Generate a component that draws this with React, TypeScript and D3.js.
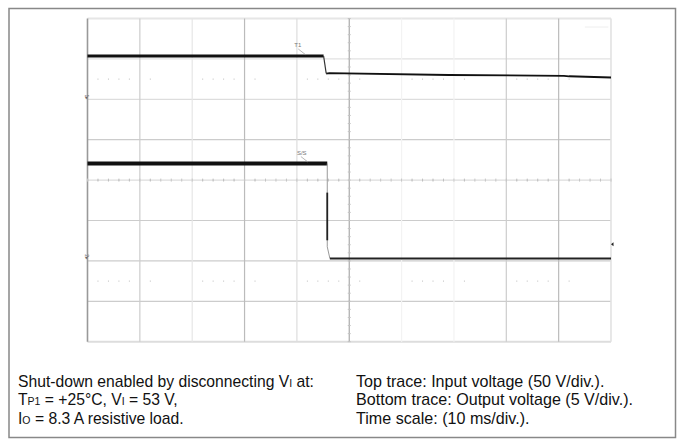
import * as React from "react";
import * as d3 from "d3";

// time axis: 10 ms/div, 10 divisions, trigger in the middle
const timeTicks = [-50, -40, -30, -20, -10, 0, 10, 20, 30, 40, 50];
const divTicks = [-4, -3, -2, -1, 0, 1, 2, 3, 4];

// channel reference markers (in divisions from centre)
const CH1_OFFSET = 2.05;
const CH2_OFFSET = -1.91;
const CH1_SCALE = 50; // V/div
const CH2_SCALE = 5; // V/div

// top trace: input voltage [ms, V]
const inputHigh: [number, number][] = [[-50, 51.1], [-4.9, 51.1]];
const inputFall: [number, number][] = [[-4.9, 51.1], [-4.4, 29.4]];
const inputLow: [number, number][] = [[-4.4, 29.4], [-3.8, 29.9], [19, 27.6], [41, 26.6], [42, 26.0], [50, 24.5]];

// bottom trace: output voltage [ms, V]
const outputHigh: [number, number][] = [[-50, 11.6], [-4.2, 11.6]];
const outputFall: [number, number][] = [[-4.2, 11.6], [-4.2, 1.3], [-3.7, -0.15]];
const outputFallStrong: [number, number][] = [[-4.2, 8.0], [-4.2, 2.1]];
const outputLow: [number, number][] = [[-3.7, -0.15], [50, -0.15]];

// rows of faint minor-tick dots (divisions)
const dotRows = [2.5, 0, -2.5];

const leftNotes = [
  [["Shut-down enabled by disconnecting V", ""], ["I", "sub"], [" at:", ""]],
  [["T", ""], ["P1", "sub"], [" = +25°C, V", ""], ["I", "sub"], [" = 53 V,", ""]],
  [["I", ""], ["O", "sub"], [" = 8.3 A resistive load.", ""]],
];
const rightNotes = [
  "Top trace: Input voltage (50 V/div.).",
  "Bottom trace: Output voltage (5 V/div.).",
  "Time scale: (10 ms/div.).",
];

const vColors = ["#999", "#ccc", "#e6e6e6", "#bbb", "#ddd", "#aaa", "#f3f3f3", "#f3f3f3", "#ccc", "#bbb", "#e2e2e2"];
const hColors = ["#ddd", "#ccc", "#ccc", "#ccc", "#ddd", "#ccc", "#ddd", "#e2e2e2", "#e6e6e6"];

export default function App() {
  const svgRef = React.useRef<SVGSVGElement>(null);

  React.useEffect(() => {
    if (!svgRef.current) return;
    const svg = d3.select(svgRef.current);
    svg.selectAll("*").remove();

    const x = d3.scaleLinear().domain([-50, 50]).range([87.5, 611]);
    const y = d3.scaleLinear().domain([-4, 4]).range([341.7, 18.5]);
    const y1 = (v: number) => y(CH1_OFFSET + v / CH1_SCALE);
    const y2 = (v: number) => y(CH2_OFFSET + v / CH2_SCALE);

    // outer frame
    svg.append("rect")
      .attr("x", 9).attr("y", 8.5).attr("width", 666.5).attr("height", 429)
      .attr("fill", "#fff").attr("stroke", "#888").attr("stroke-width", 1.5);

    const grid = svg.append("g");
    grid.selectAll("line.h").data(divTicks).enter().append("line")
      .attr("x1", x(-50)).attr("x2", x(50))
      .attr("y1", d => y(d)).attr("y2", d => y(d))
      .attr("stroke", (d, i) => hColors[i])
      .attr("stroke-width", d => (Math.abs(d) === 4 ? 2 : 1.2));
    grid.selectAll("line.v").data(timeTicks).enter().append("line")
      .attr("y1", y(-4)).attr("y2", y(4))
      .attr("x1", d => x(d)).attr("x2", d => x(d))
      .attr("stroke", (d, i) => vColors[i])
      .attr("stroke-width", d => (Math.abs(d) === 50 ? 1.6 : 1.2));

    // minor ticks on centre axes
    const minorX = d3.range(-50, 50.01, 2);
    const minorY = d3.range(-4, 4.01, 0.2);
    grid.selectAll("line.mx").data(minorX).enter().append("line")
      .attr("x1", d => x(d)).attr("x2", d => x(d))
      .attr("y1", y(0) - 1.5).attr("y2", y(0) + 1.5)
      .attr("stroke", "#c4c4c4");
    grid.selectAll("line.my").data(minorY).enter().append("line")
      .attr("y1", d => y(d)).attr("y2", d => y(d))
      .attr("x1", x(0) - 1.5).attr("x2", x(0) + 1.5)
      .attr("stroke", "#c4c4c4");
    dotRows.forEach(r => {
      grid.selectAll(null).data(minorX.filter((d, i) => i % 5 !== 0 && i % 10 < 7)).enter().append("rect")
        .attr("x", d => x(d) - 0.5).attr("y", y(r) - 0.5)
        .attr("width", 1).attr("height", 1).attr("fill", "#bbb");
    });
    grid.append("line")
      .attr("x1", x(45)).attr("x2", x(49.5)).attr("y1", 27).attr("y2", 27)
      .attr("stroke", "#eee");

    // channel markers on the left edge
    [CH1_OFFSET, CH2_OFFSET].forEach((o, i) => {
      svg.append("text")
        .attr("x", 0).attr("y", 0)
        .attr("transform", `translate(${x(-50) - 3},${y(o)}) rotate(90)`)
        .attr("text-anchor", "middle")
        .attr("font-size", 5).attr("fill", "#666")
        .attr("font-family", "Liberation Sans, Arial, sans-serif")
        .text(i === 0 ? "1▸" : "2▸");
    });

    // trigger marker on right edge
    svg.append("path")
      .attr("d", `M${x(50) + 2.5},${y2(1.6) - 2} L${x(50)},${y2(1.6)} L${x(50) + 2.5},${y2(1.6) + 2} Z`)
      .attr("fill", "#222");

    const line1 = d3.line<[number, number]>().x(d => x(d[0])).y(d => y1(d[1]));
    const line2 = d3.line<[number, number]>().x(d => x(d[0])).y(d => y2(d[1]));

    const traces: [string, number, string][] = [
      [line1(inputHigh)!, 3, "#111"],
      [line1(inputFall)!, 1.2, "#333"],
      [line1(inputLow)!, 1.8, "#111"],
      [line2(outputHigh)!, 4, "#111"],
      [line2(outputFall)!, 1, "#999"],
      [line2(outputFallStrong)!, 1.8, "#222"],
      [line2(outputLow)!, 1.8, "#222"],
    ];
    svg.append("g").selectAll("path").data(traces).enter().append("path")
      .attr("d", d => d[0])
      .attr("fill", "none")
      .attr("stroke", d => d[2])
      .attr("stroke-width", d => d[1]);

    // small annotation labels near the traces
    const ann: [number, number, string][] = [[inputHigh[1][0] - 5.6, inputHigh[1][1], "T1"], [outputHigh[1][0] - 5.8, outputHigh[1][1], "S/S"]];
    ann.forEach(([t, v, s], i) => {
      const yy = i === 0 ? y1(v) : y2(v);
      svg.append("text")
        .attr("x", x(t)).attr("y", yy - 9)
        .attr("font-size", 6).attr("fill", "#777")
        .attr("font-family", "Liberation Sans, Arial, sans-serif")
        .text(s);
      svg.append("line")
        .attr("x1", x(t) + 4).attr("y1", yy - 7)
        .attr("x2", x(t) + 11).attr("y2", yy - 1.5)
        .attr("stroke", "#999").attr("stroke-width", 0.7);
    });

    // notes below the graticule
    const font = "Liberation Sans, Arial, Helvetica, sans-serif";
    const baselines = [386.5, 405, 423.5];
    leftNotes.forEach((parts, i) => {
      const t = svg.append("text")
        .attr("x", 18).attr("y", baselines[i])
        .attr("font-family", font).attr("font-size", 15.7).attr("fill", "#111");
      parts.forEach(([s, kind]) => {
        const sp = t.append("tspan").text(s);
        if (kind === "sub") sp.attr("font-size", 10.5);
      });
    });
    svg.append("g").selectAll("text").data(rightNotes).enter().append("text")
      .attr("x", 356).attr("y", (d, i) => baselines[i])
      .attr("font-family", font).attr("font-size", 16.1).attr("fill", "#111")
      .text(d => d);
  }, []);

  return (
    <svg ref={svgRef} width={684} height={446}
      style={{ position: "absolute", left: 0, top: 0, background: "#fff" }} />
  );
}
